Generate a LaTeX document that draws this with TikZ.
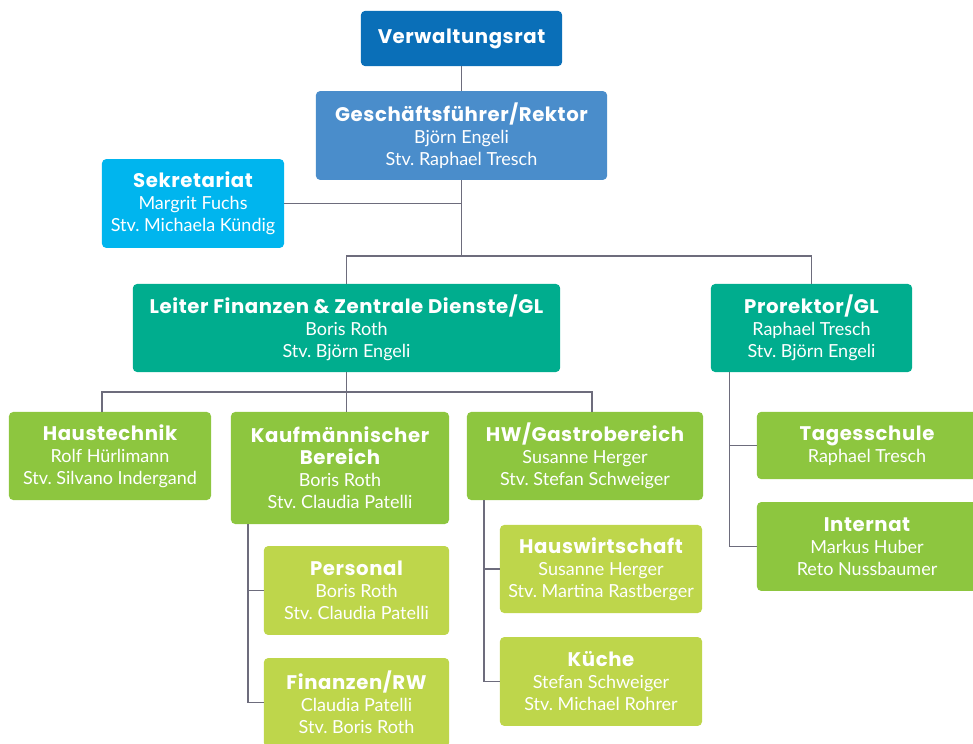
\documentclass[tikz,border=0pt]{standalone}
\usepackage{fontspec}
\setmainfont{Lato}
\newfontfamily\headfont{Poppins}[LetterSpace=3]
\definecolor{vrblue}{HTML}{0A6FB8}
\definecolor{gfblue}{HTML}{4A8DCB}
\definecolor{sekcyan}{HTML}{00B5EE}
\definecolor{glteal}{HTML}{00AD8E}
\definecolor{dgreen}{HTML}{8DC63F}
\definecolor{lgreen}{HTML}{BED64B}
\definecolor{linegray}{HTML}{6D6C7C}
\newcommand{\hd}[1]{{\headfont\bfseries\fontsize{14}{15.65}\selectfont #1}}
\frenchspacing
\begin{document}
\begin{tikzpicture}[x=0.025cm,y=-0.025cm,
    orgbox/.style={rounded corners=3pt,text=white,align=center,inner sep=0pt,
        font=\fontsize{12.8}{15.65}\selectfont,minimum height=2.22cm},
    conn/.style={draw=linegray,line width=1.2pt}]
    \useasboundingbox (0,0) rectangle (973,743);
    % obere Ebene
    \node[orgbox,fill=vrblue,minimum width=5.03cm,minimum height=1.38cm] (vr) at (461.5,38.5) {\hd{Verwaltungsrat}};
    \node[orgbox,fill=gfblue,minimum width=7.28cm] (gf) at (461.5,135.5) {\hd{Geschäftsführer/Rektor}\\Björn Engeli\\Stv. Raphael Tresch};
    \node[orgbox,fill=sekcyan,minimum width=4.55cm] (sek) at (193,203.5) {\hd{Sekretariat}\\Margrit Fuchs\\Stv. Michaela Kündig};
    \node[orgbox,fill=glteal,minimum width=10.68cm,minimum height=2.2cm] (lfz) at (346.5,328) {\hd{Leiter Finanzen \& Zentrale Dienste/GL}\\Boris Roth\\Stv. Björn Engeli};
    \node[orgbox,fill=glteal,minimum width=5.03cm,minimum height=2.2cm] (pro) at (811.5,328) {\hd{Prorektor/GL}\\Raphael Tresch\\Stv. Björn Engeli};
    % Bereiche
    \node[orgbox,fill=dgreen,minimum width=5.05cm,minimum height=2.2cm] (ht) at (110,456) {\hd{Haustechnik}\\Rolf Hürlimann\\Stv. Silvano Indergand};
    \node[orgbox,fill=dgreen,minimum width=5.45cm,minimum height=2.8cm] (kfm) at (340,468) {\hd{Kaufmännischer}\\\hd{Bereich}\\Boris Roth\\Stv. Claudia Patelli};
    \node[orgbox,fill=dgreen,minimum width=5.9cm,minimum height=2.2cm] (hw) at (585,456) {\hd{HW/Gastrobereich}\\Susanne Herger\\Stv. Stefan Schweiger};
    \node[orgbox,fill=dgreen,minimum width=5.5cm,minimum height=1.68cm] (tag) at (867,445.5) {\hd{Tagesschule}\\Raphael Tresch};
    \node[orgbox,fill=dgreen,minimum width=5.5cm] (int) at (867,546.5) {\hd{Internat}\\Markus Huber\\Reto Nussbaumer};
    % Unterbereiche
    \node[orgbox,fill=lgreen,minimum width=4.63cm] (pers) at (356.5,590.5) {\hd{Personal}\\Boris Roth\\Stv. Claudia Patelli};
    \node[orgbox,fill=lgreen,minimum width=4.63cm] (fin) at (356.5,702.5) {\hd{Finanzen/RW}\\Claudia Patelli\\Stv. Boris Roth};
    \node[orgbox,fill=lgreen,minimum width=5.05cm,minimum height=2.2cm] (hwi) at (601,569) {\hd{Hauswirtschaft}\\Susanne Herger\\Stv. Martina Rastberger};
    \node[orgbox,fill=lgreen,minimum width=5.05cm] (kue) at (601,681.5) {\hd{Küche}\\Stefan Schweiger\\Stv. Michael Rohrer};

    \coordinate (hub) at (461.5,256);
    \coordinate (bus) at (346.5,392);
    \draw[conn] (vr.south) -- (gf.north);
    \draw[conn] (gf.south) -- (hub);
    \draw[conn] (sek.east) -- (sek.east -| gf.south);
    \draw[conn] (lfz.north) |- (hub) -| (pro.north);
    \draw[conn] (lfz.south) -- (bus);
    \draw[conn] ([xshift=-0.2cm]ht.north) |- (bus) -| ([xshift=0.175cm]hw.north);
    \draw[conn] (bus) -- (kfm.north -| bus);
    %\draw[conn] (kfm.north) -- (bus);
    \draw[conn] ([xshift=0.425cm]kfm.south west) |- (pers.west);
    \draw[conn] ([xshift=0.425cm]kfm.south west) |- (fin.west);
    \draw[conn] ([xshift=0.425cm]hw.south west) |- (hwi.west);
    \draw[conn] ([xshift=0.425cm]hw.south west) |- (kue.west);
    \draw[conn] ([xshift=0.475cm]pro.south west) |- (tag.west);
    \draw[conn] ([xshift=0.475cm]pro.south west) |- (int.west);
\end{tikzpicture}
\end{document}
